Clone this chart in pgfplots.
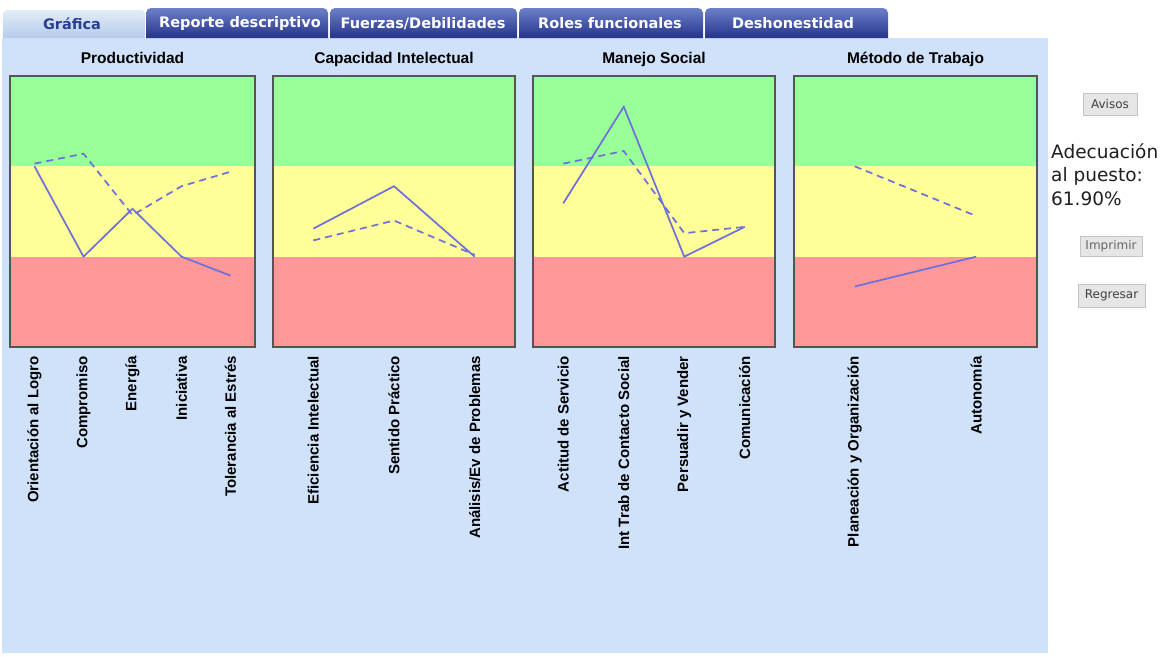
\documentclass[border=0pt]{standalone}
\usepackage{fontspec}
\setmainfont{Liberation Sans}
\newfontfamily\dejavu{DejaVu Sans}
\usepackage{pgfplots}
\pgfplotsset{compat=1.18}
\definecolor{panelblue}{HTML}{CFE2FA}
\definecolor{bandgreen}{HTML}{99FF99}
\definecolor{bandyellow}{HTML}{FFFF99}
\definecolor{bandred}{HTML}{FF9999}
\definecolor{linec}{HTML}{6E6EDC}
\definecolor{axisgray}{HTML}{555555}
\definecolor{tabdarktop}{HTML}{6C80C8}
\definecolor{tabdarkbot}{HTML}{25338A}
\definecolor{tablighttop}{HTML}{E2EDF8}
\definecolor{tablightbot}{HTML}{B3CBEA}
\definecolor{tabtext}{HTML}{2B3E8E}
\definecolor{btnfill}{HTML}{E6E6E6}
\definecolor{btnline}{HTML}{C4C4C4}

\pgfplotsset{
  panel/.style={
    scale only axis, height=271pt, anchor=north west,
    ymin=0, ymax=3, ytick=\empty,
    axis line style={draw=axisgray, line width=1.5pt},
    major tick length=0pt,
    xticklabel style={rotate=90, anchor=east, inner sep=0pt,
      font=\fontsize{15}{16}\selectfont\bfseries},
    xticklabel shift=9pt,
    title style={at={(0.5,1)}, anchor=base, yshift=7pt, inner sep=0pt,
      font=\fontsize{15.5}{18}\selectfont\bfseries},
    axis on top,
  },
  solidl/.style={color=linec, line width=1.7pt, mark=none},
  dashl/.style={color=linec, line width=1.7pt, mark=none, dash pattern=on 7pt off 5pt},
}
\newcommand{\bands}{%
  \fill[bandred] (rel axis cs:0,0) rectangle (rel axis cs:1,0.33333);
  \fill[bandyellow] (rel axis cs:0,0.33333) rectangle (rel axis cs:1,0.66667);
  \fill[bandgreen] (rel axis cs:0,0.66667) rectangle (rel axis cs:1,1);
}

\begin{document}
\begin{tikzpicture}
\path[use as bounding box] (0,0) rectangle (1175pt,-656pt);
\begin{scope}[x=1pt,y=-1pt]
  \fill[white] (0,0) rectangle (1175,656);
  \fill[panelblue] (2,38) rectangle (1048,653);
  % tabs
  \shade[top color=tablighttop, bottom color=tablightbot]
    (3,38) [rounded corners=4pt]-- (3,10) -- (145,10) [sharp corners]-- (145,38) -- cycle;
  \foreach \a/\b in {146/328, 330/517, 519/703, 705/888}{
    \shade[top color=tabdarktop, bottom color=tabdarkbot]
      (\a,38) [rounded corners=5pt]-- (\a,8) -- (\b,8) [sharp corners]-- (\b,38) -- cycle;
  }
  \begin{scope}[every node/.style={font=\dejavu\fontsize{14.5}{16}\selectfont\bfseries, inner sep=0pt}]
    \node[text=tabtext] at (72,23.5) {Gráfica};
    \node[text=white] at (240,23.5) {Reporte descriptivo};
    \node[text=white] at (423,23.5) {Fuerzas/Debilidades};
    \node[text=white] at (610,23.5) {Roles funcionales};
    \node[text=white] at (793,23.5) {Deshonestidad};
  \end{scope}
  % buttons
  \begin{scope}[every node/.style={font=\dejavu\fontsize{12}{13}\selectfont, text=black!75, inner sep=0pt}]
    \filldraw[fill=btnfill, draw=btnline, line width=1pt] (1083,93) rectangle (1137,115);
    \node at (1110,104) {Avisos};
    \filldraw[fill=btnfill, draw=btnline, line width=1pt] (1080,236) rectangle (1142,256);
    \node[text=black!60] at (1111,246) {Imprimir};
    \filldraw[fill=btnfill, draw=btnline, line width=1pt] (1078,284) rectangle (1145,307);
    \node at (1111.5,295.5) {Regresar};
  \end{scope}
  \begin{scope}[every node/.style={anchor=base west, inner sep=0pt, text=black!88,
        font=\dejavu\fontsize{18.5}{23.5}\selectfont}]
    \node at (1051,158) {Adecuación};
    \node at (1051,181.5) {al puesto:};
    \node at (1051,205) {61.90\%};
  \end{scope}
\end{scope}

% Chart 1
\begin{axis}[panel, at={(10pt,-76pt)}, width=245pt, xmin=-0.5, xmax=4.5,
  title={Productividad}, xtick={0,1,2,3,4},
  xticklabels={Orientación al Logro,Compromiso,Energía,Iniciativa,Tolerancia al Estrés}]
  \bands
  \addplot[solidl] coordinates {(0,2.0) (1,1.0) (2,1.53) (3,1.0) (4,0.79)};
  \addplot[dashl] coordinates {(0,2.03) (1,2.14) (2,1.46) (3,1.78) (4,1.94)};
\end{axis}

% Chart 2
\begin{axis}[panel, at={(273pt,-76pt)}, width=242pt, xmin=-0.5, xmax=2.5,
  title={Capacidad Intelectual}, xtick={0,1,2},
  xticklabels={Eficiencia Intelectual,Sentido Práctico,Análisis/Ev de Problemas}]
  \bands
  \addplot[solidl] coordinates {(0,1.31) (1,1.78) (2,1.0)};
  \addplot[dashl] coordinates {(0,1.18) (1,1.40) (2,1.02)};
\end{axis}

% Chart 3
\begin{axis}[panel, at={(533pt,-76pt)}, width=242pt, xmin=-0.5, xmax=3.5,
  title={Manejo Social}, xtick={0,1,2,3},
  xticklabels={Actitud de Servicio,Int Trab de Contacto Social,Persuadir y Vender,Comunicación}]
  \bands
  \addplot[solidl] coordinates {(0,1.59) (1,2.66) (2,1.0) (3,1.33)};
  \addplot[dashl] coordinates {(0,2.03) (1,2.17) (2,1.26) (3,1.33)};
\end{axis}

% Chart 4
\begin{axis}[panel, at={(794pt,-76pt)}, width=243pt, xmin=-0.5, xmax=1.5,
  title={Método de Trabajo}, xtick={0,1},
  xticklabels={Planeación y Organización,Autonomía}]
  \bands
  \addplot[solidl] coordinates {(0,0.67) (1,1.0)};
  \addplot[dashl] coordinates {(0,2.0) (1,1.45)};
\end{axis}
\end{tikzpicture}
\end{document}
